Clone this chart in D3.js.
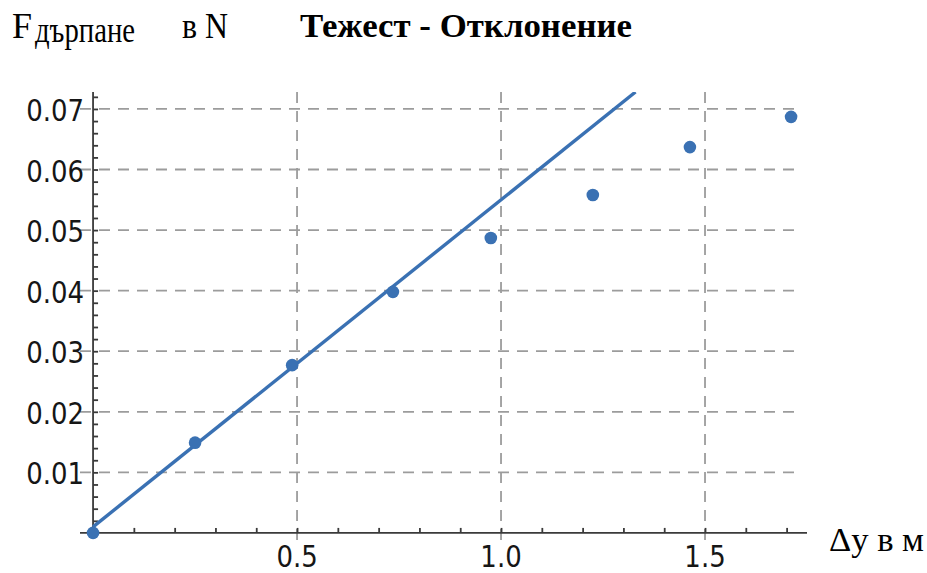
<!DOCTYPE html>
<html>
<head>
<meta charset="utf-8">
<script src="https://cdn.jsdelivr.net/npm/d3@7"></script>
<style>
  body { margin: 0; background: #fff; }
  svg { display: block; }
  .tick-label { font-family: "DejaVu Sans", sans-serif; font-size: 26px; fill: #161616; }
  .serif { font-family: "Liberation Serif", "Times New Roman", serif; fill: #000; }
</style>
</head>
<body>
<svg id="chart" width="927" height="573"></svg>
<script>
// measured deflection (m) and pulling force (N)
const deflection = [0, 0.25, 0.488, 0.735, 0.975, 1.225, 1.463, 1.711];
const force = [0, 0.0149, 0.0277, 0.0398, 0.0487, 0.0558, 0.0637, 0.0687];

// linear fit drawn over the first points
const fitIntercept = 0.001;
const fitSlope = 0.054;

const xTicks = [0.5, 1.0, 1.5];
const yTicks = [0.01, 0.02, 0.03, 0.04, 0.05, 0.06, 0.07];
const xDomain = [-0.032, 1.75];
const yDomain = [-0.0015, 0.0728];

const blue = '#3a71b3';
const svg = d3.select('#chart');

let x = d3.scaleLinear().domain(xDomain).range([80, 807]);
let y = d3.scaleLinear().domain(yDomain).range([542, 92]);

// grid lines
let grid = svg.append('g')
    .attr('stroke', '#9c9c9c')
    .attr('stroke-width', 1.8)
    .attr('stroke-dasharray', '11,8');
grid.selectAll('.hgrid')
    .data(yTicks)
    .enter()
    .append('line')
    .attr('x1', x(xDomain[0]))
    .attr('x2', 800)
    .attr('y1', d => y(d))
    .attr('y2', d => y(d));
grid.selectAll('.vgrid')
    .data(xTicks)
    .enter()
    .append('line')
    .attr('x1', d => x(d))
    .attr('x2', d => x(d))
    .attr('y1', y(yDomain[1]))
    .attr('y2', y(yDomain[0]));

// axes through the origin
let axisColor = '#3a3a3a';
let xAxis = d3.axisBottom(x)
    .tickValues(d3.range(1, 18).map(i => i / 10))
    .tickSize(-5)
    .tickFormat('');
svg.append('g')
    .attr('transform', 'translate(0,' + y(0) + ')')
    .call(xAxis)
    .call(g => g.select('.domain').attr('d', 'M' + x(xDomain[0]) + ',0H' + x(xDomain[1])))
    .call(g => g.selectAll('line, path').attr('stroke', axisColor).attr('stroke-width', 1.8));

let yAxis = d3.axisLeft(y)
    .tickValues(d3.range(1, 37).map(i => i * 0.002))
    .tickSize(-5)
    .tickFormat('');
svg.append('g')
    .attr('transform', 'translate(' + x(0) + ',0)')
    .call(yAxis)
    .call(g => g.select('.domain').attr('d', 'M0,' + y(yDomain[1]) + 'V' + y(0)))
    .call(g => g.selectAll('line, path').attr('stroke', axisColor).attr('stroke-width', 1.8));

// tick labels (slightly tall, as in the source picture)
svg.selectAll('.xlab')
    .data(xTicks)
    .enter()
    .append('text')
    .attr('class', 'tick-label')
    .attr('transform', d => 'translate(' + x(d) + ',567) scale(1,1.15)')
    .attr('text-anchor', 'middle')
    .text(d3.format('.1f'));
svg.selectAll('.ylab')
    .data(yTicks)
    .enter()
    .append('text')
    .attr('class', 'tick-label')
    .attr('transform', d => 'translate(84,' + (y(d) + 12) + ') scale(1,1.15)')
    .attr('text-anchor', 'end')
    .text(d3.format('.2f'));

// fit line, clipped at the top of the plot range
svg.append('clipPath').attr('id', 'plotclip')
    .append('rect')
    .attr('x', x(xDomain[0])).attr('y', y(yDomain[1]))
    .attr('width', x(xDomain[1]) - x(xDomain[0]))
    .attr('height', y(yDomain[0]) - y(yDomain[1]));
let xEnd = (yDomain[1] - fitIntercept) / fitSlope;
svg.append('line')
    .attr('clip-path', 'url(#plotclip)')
    .attr('x1', x(0)).attr('y1', y(fitIntercept))
    .attr('x2', x(xEnd)).attr('y2', y(yDomain[1]))
    .attr('stroke', blue)
    .attr('stroke-width', 3.4);

// data points
svg.selectAll('.pt')
    .data(deflection)
    .enter()
    .append('circle')
    .attr('cx', d => x(d))
    .attr('cy', (d, i) => y(force[i]))
    .attr('r', 6.3)
    .attr('fill', blue);

// labels
svg.append('text')
    .attr('class', 'serif')
    .attr('x', 12)
    .attr('y', 38)
    .attr('font-size', 36)
    .text('F');
svg.append('text')
    .attr('class', 'serif')
    .attr('x', 35)
    .attr('y', 42)
    .attr('font-size', 36)
    .attr('textLength', 100)
    .attr('lengthAdjust', 'spacingAndGlyphs')
    .text('дърпане');

svg.append('text')
    .attr('class', 'serif')
    .attr('x', 182)
    .attr('y', 38)
    .attr('font-size', 36)
    .attr('textLength', 46)
    .attr('lengthAdjust', 'spacingAndGlyphs')
    .text('в N');

svg.append('text')
    .attr('class', 'serif')
    .attr('x', 300)
    .attr('y', 37)
    .attr('font-size', 34)
    .attr('font-weight', 'bold')
    .attr('textLength', 332)
    .attr('lengthAdjust', 'spacingAndGlyphs')
    .text('Тежест - Отклонение');

svg.append('text')
    .attr('class', 'serif')
    .attr('x', 829)
    .attr('y', 551)
    .attr('font-size', 33)
    .attr('textLength', 95)
    .attr('lengthAdjust', 'spacingAndGlyphs')
    .text('Δy в м');
</script>
</body>
</html>
